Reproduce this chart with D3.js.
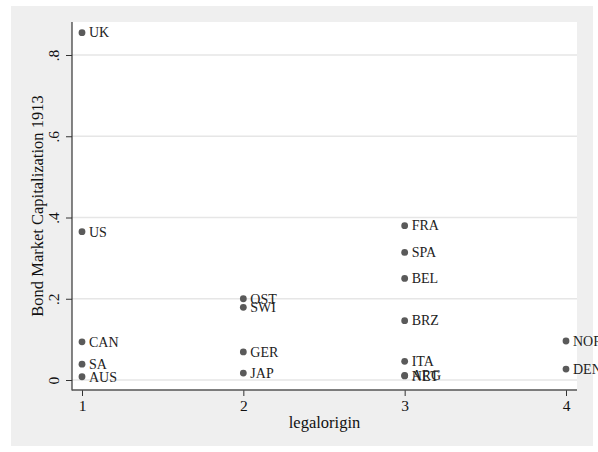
<!DOCTYPE html>
<html>
<head>
<meta charset="utf-8">
<script src="https://cdn.jsdelivr.net/npm/d3@7"></script>
<style>
  html, body { margin: 0; padding: 0; background: #ffffff; }
  svg { display: block; }
  text { font-family: "Liberation Serif", "Times New Roman", serif; }
</style>
</head>
<body>
<svg id="chart" width="598" height="452"></svg>
<script>
// ---- data ----
const countries   = ["UK", "US", "CAN", "SA", "AUS", "OST", "SWI", "GER", "JAP", "FRA", "SPA", "BEL", "BRZ", "ITA", "NET", "ARG", "NOR", "DEN"];
const legalorigin = [1, 1, 1, 1, 1, 2, 2, 2, 2, 3, 3, 3, 3, 3, 3, 3, 4, 4];
const bondCap1913 = [0.855, 0.365, 0.094, 0.039, 0.008, 0.200, 0.179, 0.069, 0.017, 0.380, 0.314, 0.250, 0.146, 0.046, 0.010, 0.0115, 0.096, 0.027];
const xTicks = [1, 2, 3, 4];
const yTicks = [0, 0.2, 0.4, 0.6, 0.8];
const yTickLabels = ["0", ".2", ".4", ".6", ".8"];
const xTitle = "legalorigin";
const yTitle = "Bond Market Capitalization 1913";

const points = countries.map((c, i) => ({ name: c, x: legalorigin[i], y: bondCap1913[i] }));

// ---- layout ----
const svg = d3.select("#chart");
const plot = { left: 72, right: 577, top: 22, bottom: 390 };

const x = d3.scaleLinear().domain([1, 4]).range([82, 566]);
const y = d3.scaleLinear().domain([0, 0.8]).range([380, 55]);

// outer grey graph region
svg.append("rect").attr("x", 11).attr("y", 6).attr("width", 582).attr("height", 440).attr("fill", "#efefef");
// white plot region
svg.append("rect").attr("x", plot.left).attr("y", plot.top)
  .attr("width", plot.right - plot.left).attr("height", plot.bottom - plot.top).attr("fill", "#ffffff");

// grid lines
svg.append("g").selectAll("line").data(yTicks).join("line")
  .attr("x1", plot.left).attr("x2", plot.right)
  .attr("y1", d => y(d)).attr("y2", d => y(d))
  .attr("stroke", "#e6e6e6").attr("stroke-width", 1.4);

// y axis
const yAxis = d3.axisLeft(y).tickValues(yTicks).tickSize(6).tickPadding(0)
  .tickFormat((d, i) => yTickLabels[i]);
const gy = svg.append("g").attr("transform", `translate(${plot.left},0)`).call(yAxis);
gy.select(".domain").remove();
gy.selectAll(".tick line").attr("stroke", "#333");
gy.selectAll(".tick text")
  .attr("x", null).attr("dy", null)
  .attr("text-anchor", "middle")
  .attr("transform", "translate(-13,0) rotate(-90)")
  .attr("y", 0)
  .attr("font-size", 15.5).attr("fill", "#111")
  .attr("font-family", "Liberation Serif, serif");
svg.append("line").attr("x1", plot.left).attr("x2", plot.left)
  .attr("y1", plot.top).attr("y2", plot.bottom + 0.5).attr("stroke", "#333").attr("stroke-width", 1.2);

// x axis
const xAxis = d3.axisBottom(x).tickValues(xTicks).tickSize(6).tickPadding(4).tickFormat(d3.format("d"));
const gx = svg.append("g").attr("transform", `translate(0,${plot.bottom})`).call(xAxis);
gx.select(".domain").remove();
gx.selectAll(".tick line").attr("stroke", "#333");
gx.selectAll(".tick text").attr("font-size", 15.5).attr("fill", "#111")
  .attr("font-family", "Liberation Serif, serif");
svg.append("line").attr("x1", plot.left).attr("x2", plot.right)
  .attr("y1", plot.bottom).attr("y2", plot.bottom).attr("stroke", "#555").attr("stroke-width", 1.6);

// axis titles
svg.append("text").attr("x", (plot.left + plot.right) / 2).attr("y", 427.5)
  .attr("text-anchor", "middle").attr("font-size", 16.5).attr("fill", "#111").text(xTitle);
svg.append("text").attr("transform", `translate(42.5,${(plot.top + plot.bottom) / 2}) rotate(-90)`)
  .attr("text-anchor", "middle").attr("font-size", 16.5).attr("fill", "#111").text(yTitle);

// points
const gp = svg.append("g");
gp.selectAll("circle").data(points).join("circle")
  .attr("cx", d => x(d.x)).attr("cy", d => y(d.y)).attr("r", 3.4)
  .attr("fill", "#5a5a5a");
gp.selectAll("text").data(points).join("text")
  .attr("x", d => x(d.x) + 7).attr("y", d => y(d.y) + 4.8)
  .attr("font-size", 14).attr("fill", "#222").text(d => d.name);
</script>
</body>
</html>
